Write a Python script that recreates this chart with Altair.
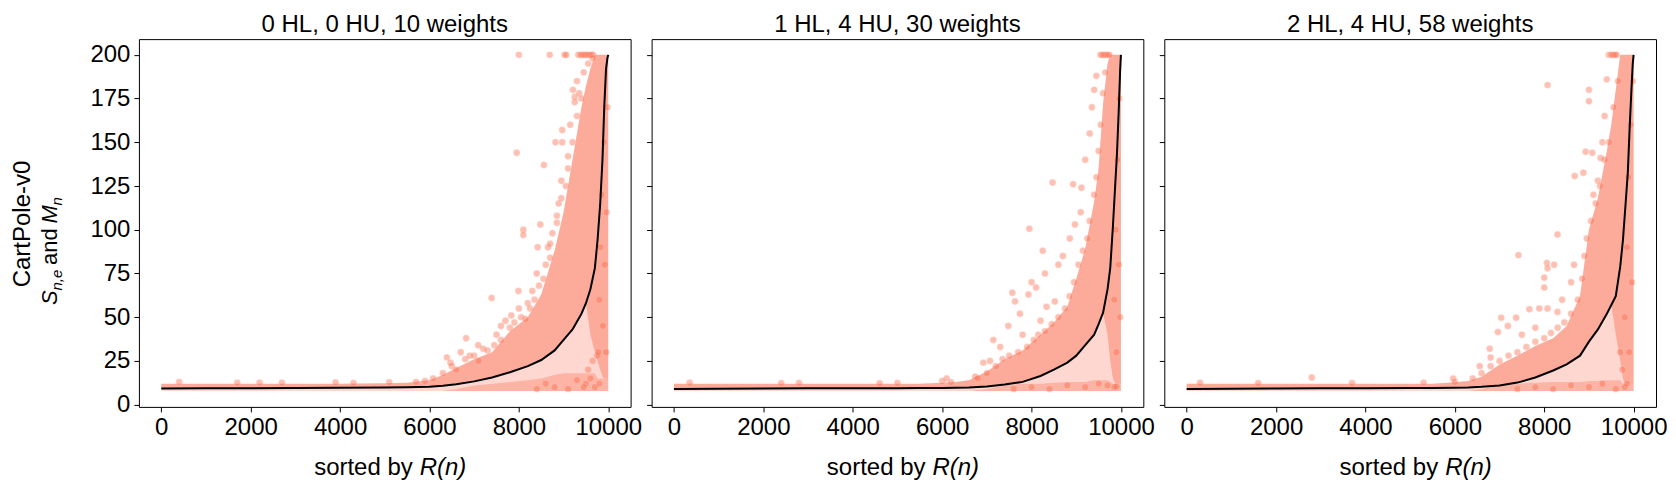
import pandas as pd
import altair as alt

FONT = "Liberation Sans"
SALMON = "#fb6a4a"

TITLES = ["0 HL, 0 HU, 10 weights", "1 HL, 4 HU, 30 weights", "2 HL, 4 HU, 58 weights"]
X_TICKS = [0, 2000, 4000, 6000, 8000, 10000]
Y_TICKS = [0, 25, 50, 75, 100, 125, 150, 175, 200]

GRID_X = [0, 1000, 2000, 3000, 4000, 5000, 5500, 6000, 6300, 6600, 7000, 7400, 7800, 8200,
          8500, 8800, 9000, 9200, 9400, 9500, 9600, 9700, 9760, 9820, 9870, 9910, 9950, 9980, 9999]
BAND_FLOOR = 7.8

# panel 1: 0 HL, 0 HU
P1_MEAN = [9.2, 9.3, 9.4, 9.5, 9.6, 9.8, 9.9, 10.2, 10.8, 11.6, 13.3, 15.5, 18.5, 22,
           25.5, 31, 37, 43, 52, 58, 66, 78, 94, 115, 140, 170, 192, 198, 200]
P1_HI = [12, 12, 12, 12, 12, 12.2, 12.5, 14, 17, 21, 26, 30, 42, 50,
         63, 88, 110, 140, 170, 182, 192, 200, 200, 200, 200, 200, 200, 200, 200]
P1_CORE_LO = [9.2, 9.3, 9.4, 9.5, 9.6, 9.8, 9.9, 10.2, 10.8, 11.6, 13.3, 15.5, 18.5, 22,
              25.5, 31, 37, 43, 52, 58, 40, 30, 25, 20, 16, 15, 15, 15, 15]
P1_FLOOR_HI = [7.8, 7.8, 7.8, 7.8, 7.8, 7.8, 7.8, 7.8, 7.8, 9, 11, 12, 13, 14,
               15, 17, 18, 18, 18, 18, 18, 18, 15, 15, 15, 15, 15, 15, 15]
P1_DOT_X = [8000, 8690, 9020, 9060, 9330, 9380, 9420, 9460, 9500, 9540, 9580, 9620, 9660,
            7950, 8560, 8820, 8970, 8970, 9210, 9250, 9250, 9300, 8100, 8100, 8420, 8480,
            8890, 8850, 7390, 7990, 8300, 6820, 7830, 6390, 6470, 6080, 7090, 7600, 7700,
            8200, 8400, 8650, 8700, 8950, 9100, 9150, 9350, 6700, 7200, 7500, 8000, 6900,
            400, 1700, 2200, 2700, 3900, 4300, 5100, 5700, 5900,
            9500, 9600, 9650, 9700, 9750, 9780, 9800, 9550, 9450, 9300, 9100, 8800, 8600, 8400,
            6300, 6500, 6600, 6800, 7000, 7100, 7300, 7450, 7600, 7800, 7900, 8050, 8150, 8250,
            8350, 8450, 8550, 8600, 8700, 8750, 8850, 8950, 9050, 9100, 9200, 9300, 9400, 9450,
            9550, 9650, 9800, 9820, 9850, 9880, 9900, 9920, 9950, 9960, 9980]
P1_DOT_Y = [200, 200, 200, 200, 200, 200, 200, 200, 200, 200, 200, 200, 200,
            144, 137, 150, 150, 157, 180, 176, 173, 185, 100, 97, 90, 103,
            115, 104, 61, 65, 65, 38, 51, 27, 24, 15, 34, 45, 48,
            58, 75, 90, 84, 128, 135, 160, 178, 30, 32, 40, 55, 28,
            13, 12.5, 12.6, 12.5, 12.7, 12.4, 12.8, 13, 13.5,
            12, 15, 25, 10, 28, 30, 12, 20, 10, 14, 9, 10, 12, 9,
            18, 22, 20, 26, 28, 25, 31, 34, 37, 44, 47, 50, 49, 55,
            60, 68, 72, 80, 92, 98, 108, 118, 125, 142, 150, 165, 175, 190,
            195, 198, 60, 90, 120, 45, 150, 80, 30, 110, 170]

# panel 2: 1 HL, 4 HU
P2_MEAN = [9.0, 9.1, 9.2, 9.3, 9.3, 9.4, 9.5, 9.5, 9.6, 9.8, 10.3, 11.5, 13, 16.4,
           20, 24, 28, 34, 40, 46, 52.6, 66, 78, 102, 125, 143, 168, 190, 200]
P2_HI = [12, 12, 12, 12, 12, 12, 12, 12.5, 13, 14, 19, 26, 31, 40,
         47, 56, 72, 89, 116, 135, 172, 195, 200, 200, 200, 200, 200, 200, 200]
P2_CORE_LO = [9.0, 9.1, 9.2, 9.3, 9.3, 9.4, 9.5, 9.5, 9.6, 9.8, 10.3, 11.5, 13, 16.4,
              20, 24, 28, 34, 40, 46, 52.6, 40, 25, 15, 12, 12, 12, 12, 12]
P2_FLOOR_HI = [7.8, 7.8, 7.8, 7.8, 7.8, 7.8, 7.8, 7.8, 7.8, 7.8, 9, 11, 12, 12,
               12.5, 13, 13, 13, 14, 14, 14, 14, 13, 12, 12, 12, 12, 12, 12]
P2_DOT_X = [9540, 9580, 9620, 9660, 9700, 9740,
            8470, 8930, 9115, 7950, 8250, 8970, 8855, 7570, 7930, 7630, 8335, 8520, 7740,
            7480, 7145, 7070, 6920, 6100, 6740, 8000, 8100, 8300, 8600, 8700, 9100, 9200,
            9300, 9350, 9400, 9450, 7300, 7800, 8200,
            350, 2400, 2800, 4600, 5000, 6000, 6200,
            7600, 8000, 8400, 8800, 9200, 9500, 9700, 9850, 9900,
            6800, 7000, 7200, 7350, 7500, 7700, 7900, 8050, 8150, 8300, 8450, 8600, 8750,
            8850, 8950, 9050, 9150, 9250, 9300, 9400, 9450, 9500, 9550, 9600, 9650,
            9850, 9880, 9900, 9920, 9950, 9960, 9980]
P2_DOT_Y = [200, 200, 200, 200, 200, 200,
            127, 126, 124, 100.6, 88, 103, 95, 64, 63, 59, 56, 59, 52,
            45, 37, 25, 24, 15, 16, 70, 67, 75, 80, 85, 110, 140,
            155, 170, 180, 188, 33, 40, 48,
            12.5, 12.3, 12.4, 12.2, 12.4, 13.5, 12.8,
            9, 10, 9, 11, 10, 12, 11, 10, 10.3,
            15, 18, 22, 26, 28, 30, 33, 37, 40, 42, 46, 50, 55,
            62, 70, 80, 88, 95, 105, 120, 130, 145, 160, 178, 190,
            60, 100, 30, 140, 80, 175, 50]

# panel 3: 2 HL, 4 HU
P3_MEAN = [9.0, 9.1, 9.2, 9.3, 9.4, 9.5, 9.5, 9.6, 9.8, 10.2, 11, 12.6, 15.5, 19.5,
           23, 28, 36, 43, 52, 57, 62, 79, 94, 115, 133, 158, 180, 195, 200]
P3_HI = [12, 12, 12, 12, 12, 12, 12, 12.8, 13.5, 16, 23, 28, 33.5, 38,
         45, 62, 100, 118, 145, 160, 180, 200, 200, 200, 200, 200, 200, 200, 200]
P3_CORE_LO = [9.0, 9.1, 9.2, 9.3, 9.4, 9.5, 9.5, 9.6, 9.8, 10.2, 11, 12.6, 15.5, 19.5,
              23, 28, 36, 43, 52, 57, 40, 25, 15, 12, 12, 12, 12, 12, 12]
P3_FLOOR_HI = [7.8, 7.8, 7.8, 7.8, 7.8, 7.8, 7.8, 7.8, 7.8, 9, 11, 12, 12.5, 13,
               13, 13, 13.5, 13.5, 14, 14, 14, 14, 12, 12, 12, 12, 12, 12, 12]
P3_DOT_X = [9444, 9500, 9540, 9580, 9620,
            8074, 9000, 9000, 9400, 8926, 9074, 9260, 8681, 8874, 8296, 7422, 8060, 8074,
            8222, 8666, 8000, 8000, 7667, 7889, 8074, 8296, 7370, 7185, 7037, 6963, 6780,
            6800, 6556, 5963, 7500, 7800, 8400, 8600, 9100, 9200, 9300, 9350,
            2800, 300, 1600, 3700, 5300, 6000,
            7400, 7800, 8200, 8600, 9000, 9300, 9600, 9800, 9850, 9700, 9750,
            6400, 6600, 6800, 7000, 7200, 7400, 7600, 7800, 8000, 8150, 8300, 8450, 8600,
            8750, 8850, 8900, 8950, 9050, 9150, 9250, 9350, 9450, 9550, 9650,
            9800, 9850, 9880, 9900, 9930, 9960, 9980]
P3_DOT_Y = [200, 200, 200, 200, 200,
            182.7, 180, 173.5, 186, 144.6, 144, 141, 130.7, 132.6, 97.3, 85.5, 81, 78,
            80, 80, 72.6, 67, 54.5, 55, 55, 53, 49.7, 45, 49.7, 41.5, 32,
            26.9, 22, 14.9, 40, 44, 60, 70, 120, 128, 150, 165,
            15.5, 12.5, 12.3, 12.4, 12.6, 13,
            9, 10, 9, 11, 10, 12, 9, 10, 12, 30, 20,
            15, 18, 22, 25, 28, 30, 33, 36, 38, 41, 44, 47, 52,
            60, 72, 85, 95, 105, 115, 125, 140, 150, 170, 185,
            50, 90, 130, 30, 160, 70, 185]

W, H = 492, 368
x_scale = alt.Scale(domain=[-500, 10500], nice=False, zero=False)
y_scale = alt.Scale(domain=[-1.3, 209.0], nice=False, zero=False)


def text_piece(text, x, y, size, angle=0, align="center", baseline="alphabetic", italic=False):
    return alt.Chart(pd.DataFrame({"t": [0]})).mark_text(
        text=text, font=FONT, fontSize=size, angle=angle, align=align, baseline=baseline,
        fontStyle="italic" if italic else "normal", color="black"
    ).encode(x=alt.value(x), y=alt.value(y))


def panel(title, mean, hi, core_lo, floor_hi, dot_x, dot_y, first):
    band = pd.DataFrame({"x": GRID_X, "lo": [BAND_FLOOR] * len(GRID_X), "hi": hi,
                         "mean": mean, "core_lo": core_lo, "floor_hi": floor_hi})
    dots = pd.DataFrame({"x": dot_x, "y": dot_y})

    x_axis = alt.Axis(values=X_TICKS, format="d", title=None, labelFlush=False)
    y_axis = alt.Axis(values=Y_TICKS, format="d", title=None, labels=first, labelFlush=False)
    x = alt.X("x:Q", scale=x_scale, axis=x_axis)

    base = alt.Chart(band).mark_area(color=SALMON, opacity=0.26).encode(
        x=x, y=alt.Y("lo:Q", scale=y_scale, axis=y_axis), y2="hi:Q")
    core = alt.Chart(band).mark_area(color=SALMON, opacity=0.4).encode(
        x=x, y=alt.Y("core_lo:Q", scale=y_scale), y2="hi:Q")
    floor = alt.Chart(band).mark_area(color=SALMON, opacity=0.32).encode(
        x=x, y=alt.Y("lo:Q", scale=y_scale), y2="floor_hi:Q")
    pts = alt.Chart(dots).mark_circle(size=48, color=SALMON, opacity=0.42,
                                      stroke="white", strokeWidth=0.4).encode(
        x=x, y=alt.Y("y:Q", scale=y_scale))
    line = alt.Chart(band).mark_line(color="black", strokeWidth=2).encode(
        x=x, y=alt.Y("mean:Q", scale=y_scale))

    layers = [base, core, floor, pts, line,
              text_piece("sorted by", 274, 436, 24, align="right"),
              text_piece("R(n)", 281, 436, 24, align="left", italic=True)]
    if first:
        layers += [
            text_piece("CartPole-v0", -116, 185, 24, angle=270, baseline="middle"),
            text_piece("S", -82, 266, 22, angle=270, align="left", italic=True),
            text_piece("n,e", -77, 251.5, 15, angle=270, align="left", italic=True),
            text_piece("and", -82, 226, 22, angle=270, align="left"),
            text_piece("M", -82, 184.5, 22, angle=270, align="left", italic=True),
            text_piece("n", -77, 166.5, 15, angle=270, align="left", italic=True),
        ]
    return alt.layer(*layers).properties(
        width=W, height=H,
        title=alt.Title(title, fontSize=24, font=FONT, fontWeight="normal", offset=2, color="black"))


charts = [
    panel(TITLES[0], P1_MEAN, P1_HI, P1_CORE_LO, P1_FLOOR_HI, P1_DOT_X, P1_DOT_Y, True),
    panel(TITLES[1], P2_MEAN, P2_HI, P2_CORE_LO, P2_FLOOR_HI, P2_DOT_X, P2_DOT_Y, False),
    panel(TITLES[2], P3_MEAN, P3_HI, P3_CORE_LO, P3_FLOOR_HI, P3_DOT_X, P3_DOT_Y, False),
]

chart = alt.hconcat(*charts, spacing=21, bounds="flush").properties(
    padding={"top": 4, "left": 2, "right": 0, "bottom": 0}, background="white"
).configure_view(stroke="black", strokeWidth=1).configure_axis(
    domain=False, grid=False, ticks=True, tickColor="black", tickSize=5, tickWidth=1,
    labelFont=FONT, labelFontSize=24, labelColor="black", labelPadding=4
)

chart.save("out.html", embed_options={"renderer": "svg", "actions": False})
